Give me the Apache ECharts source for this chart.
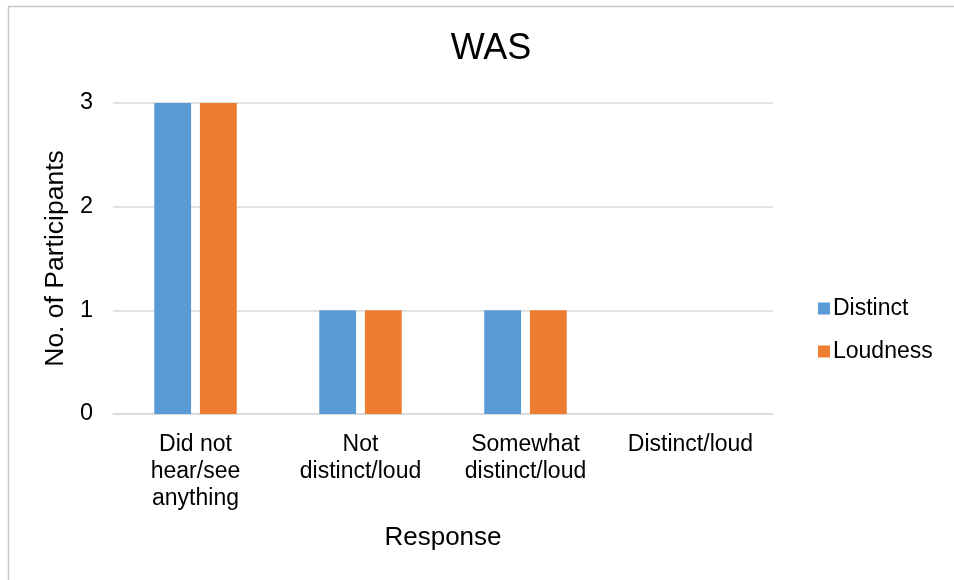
<!DOCTYPE html>
<html>
<head>
<meta charset="utf-8">
<script src="https://cdn.jsdelivr.net/npm/echarts@6/dist/echarts.min.js"></script>
<style>
  html, body { margin: 0; padding: 0; background: #fff; }
  #chart { width: 954px; height: 580px; }
</style>
</head>
<body>
<div id="chart"></div>
<script>
// Response categories (line breaks as they wrap under the axis)
const categories = [
  'Did not\nhear/see\nanything',
  'Not\ndistinct/loud',
  'Somewhat\ndistinct/loud',
  'Distinct/loud'
];
const distinctValues = [3, 1, 1, 0];
const loudnessValues = [3, 1, 1, 0];
const yTicks = [0, 1, 2, 3];

const FONT = '"Liberation Sans", Arial, sans-serif';
const chart = echarts.init(document.getElementById('chart'), null, { renderer: 'canvas' });

chart.setOption({
  backgroundColor: '#ffffff',
  animation: false,
  textStyle: { fontFamily: FONT, color: '#000' },
  graphic: [{
    type: 'rect',
    shape: { x: 8.5, y: 6.5, width: 2000, height: 2000 },
    style: { fill: 'none', stroke: '#c6c6c6', lineWidth: 1.5 },
    silent: true
  }],
  title: {
    text: 'WAS',
    left: 486,
    top: 26,
    textAlign: 'center',
    textStyle: { fontFamily: FONT, fontSize: 36, fontWeight: 'normal', color: '#000' }
  },
  legend: {
    orient: 'vertical',
    left: 813,
    top: 292,
    itemWidth: 12,
    itemHeight: 12,
    itemGap: 20,
    icon: 'rect',
    textStyle: { fontFamily: FONT, fontSize: 23, color: '#000', padding: [0, 0, 0, -2] },
    data: ['Distinct', 'Loudness']
  },
  grid: { left: 113, right: 181, top: 103, bottom: 166 },
  xAxis: {
    type: 'category',
    data: categories,
    name: 'Response',
    nameLocation: 'middle',
    nameGap: 111,
    nameTextStyle: { fontFamily: FONT, fontSize: 26, color: '#000' },
    axisLine: { show: true, lineStyle: { color: '#d9d9d9', width: 1.5 } },
    axisTick: { show: false },
    axisLabel: {
      interval: 0,
      margin: 17,
      fontFamily: FONT,
      fontSize: 23,
      lineHeight: 27,
      color: '#000'
    }
  },
  yAxis: {
    type: 'value',
    min: yTicks[0],
    max: yTicks[yTicks.length - 1],
    interval: 1,
    name: 'No. of Participants',
    nameLocation: 'middle',
    nameGap: 42,
    nameTextStyle: { fontFamily: FONT, fontSize: 26.5, color: '#000' },
    axisLine: { show: false },
    axisTick: { show: false },
    axisLabel: { margin: 20, fontFamily: FONT, fontSize: 23.5, color: '#000' },
    splitLine: { lineStyle: { color: '#d9d9d9', width: 1.5 } }
  },
  series: [
    {
      name: 'Distinct',
      type: 'bar',
      data: distinctValues,
      itemStyle: { color: '#5b9bd5' },
      barGap: '24%',
      barCategoryGap: '50%'
    },
    {
      name: 'Loudness',
      type: 'bar',
      data: loudnessValues,
      itemStyle: { color: '#ed7d31' },
      barGap: '24%',
      barCategoryGap: '50%'
    }
  ]
});
</script>
</body>
</html>
